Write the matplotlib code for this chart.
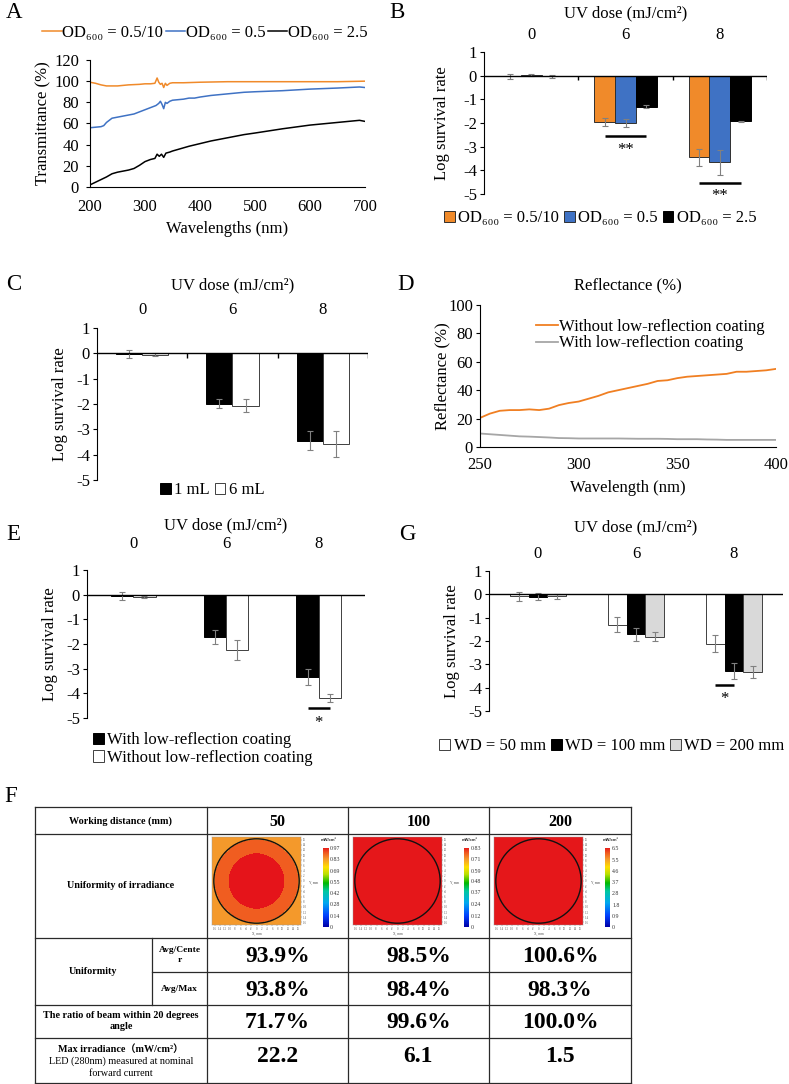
import numpy as np
import matplotlib
matplotlib.use('Agg')
import matplotlib.pyplot as plt
from matplotlib.patches import Circle
from matplotlib.colors import LinearSegmentedColormap

# ---------------- data ----------------
# Panel A : transmittance (%) vs wavelength (nm)
a_wl_orange = [200, 210, 220, 230, 250, 270, 290, 300, 310, 318, 322, 325, 328, 331, 334, 337, 340, 345, 350, 370, 400, 450, 500, 550, 600, 650, 700]
a_t_orange = [99, 98, 96.5, 95.5, 95.5, 96.5, 97, 97.5, 97.5, 98, 103, 99, 97, 98, 94, 98, 96, 98, 98.5, 98.5, 99, 99.5, 99.5, 99.5, 99.5, 99.5, 100]
a_wl_blue = [200, 210, 220, 225, 230, 240, 250, 260, 270, 280, 290, 300, 310, 320, 325, 328, 331, 334, 337, 340, 345, 350, 360, 370, 380, 390, 400, 420, 440, 460, 480, 500, 550, 600, 650, 690, 700]
a_t_blue = [56, 56.5, 57, 58, 61, 65, 66, 67, 68, 69, 71, 73, 75, 77, 79, 81, 78, 74, 80, 79, 81, 82, 82.5, 83, 84, 84, 85, 86.5, 87.5, 88.5, 89.5, 90, 91, 92.5, 93.5, 94.5, 94]
a_wl_black = [200, 210, 220, 230, 240, 250, 260, 270, 280, 290, 300, 310, 318, 322, 326, 330, 334, 338, 345, 350, 360, 370, 380, 400, 420, 450, 480, 500, 550, 600, 650, 690, 700]
a_t_black = [2, 4.5, 7, 9.5, 12.5, 14, 15, 16, 17.5, 20.5, 24, 26, 27, 31, 29, 31, 28, 32, 33, 34, 35.5, 37, 38.5, 41, 43.5, 46.5, 49.5, 51, 55, 58.5, 61, 63, 62]
a_labels = ['OD₆₀₀ = 0.5/10', 'OD₆₀₀ = 0.5', 'OD₆₀₀ = 2.5']

# Bar panels: categories are UV doses
uv_doses = ['0', '6', '8']

b_labels = ['OD₆₀₀ = 0.5/10', 'OD₆₀₀ = 0.5', 'OD₆₀₀ = 2.5']
b_vals = [[-0.03, -1.97, -3.45], [0.02, -1.98, -3.65], [-0.03, -1.31, -1.92]]
b_errs = [[0.12, 0.17, 0.37], [0.03, 0.17, 0.53], [0.05, 0.07, 0.02]]
b_sig = [(1, 0, 2, -2.57, -3.13, '**'), (2, 0, 2, -4.53, -5.09, '**')]

c_labels = ['1 mL', '6 mL']
c_vals = [[-0.03, -1.99, -3.45], [-0.05, -2.07, -3.58]]
c_errs = [[0.15, 0.17, 0.38], [0.05, 0.25, 0.50]]

e_labels = ['With low-reflection coating', 'Without low-reflection coating']
e_vals = [[-0.05, -1.72, -3.34], [-0.10, -2.24, -4.19]]
e_errs = [[0.17, 0.27, 0.32], [0.05, 0.42, 0.18]]
e_sig = [(2, 0, 1, -4.58, -5.2, '*')]

g_labels = ['WD = 50 mm', 'WD = 100 mm', 'WD = 200 mm']
g_vals = [[-0.08, -1.30, -2.11], [-0.10, -1.72, -3.28], [-0.08, -1.82, -3.32]]
g_errs = [[0.20, 0.32, 0.35], [0.15, 0.26, 0.33], [0.10, 0.20, 0.27]]
g_sig = [(2, 0, 1, -3.9, -4.47, '*')]

# Panel D : reflectance (%)
d_wl = [250, 255, 260, 265, 270, 275, 280, 285, 290, 295, 300, 305, 310, 315, 320, 325, 330, 335, 340, 345, 350, 355, 360, 365, 370, 375, 380, 385, 390, 395, 400]
d_without = [20.5, 23.5, 25.5, 26, 26, 26.5, 26, 27, 29.5, 31, 32, 34, 36, 38.5, 40, 41.5, 43, 44.5, 46.5, 47, 48.5, 49.5, 50, 50.5, 51, 51.5, 53, 53, 53.5, 54, 55]
d_with = [9.5, 9, 8.5, 8, 7.5, 7.3, 7, 6.7, 6.3, 6.2, 6, 6, 6, 6, 6, 5.9, 5.8, 5.8, 5.8, 5.7, 5.5, 5.5, 5.5, 5.3, 5.2, 5, 5, 5, 5, 5, 5]
d_labels = ['Without low-reflection coating', 'With low-reflection coating']

# Panel F : table
f_wd = ['50', '100', '200']
f_avg_center = ['93.9%', '98.5%', '100.6%']
f_avg_max = ['93.8%', '98.4%', '98.3%']
f_ratio = ['71.7%', '99.6%', '100.0%']
f_max_irr = ['22.2', '6.1', '1.5']
f_cbar_ticks = [[0.97, 0.83, 0.69, 0.55, 0.42, 0.28, 0.14, 0],
                [0.83, 0.71, 0.59, 0.48, 0.37, 0.24, 0.12, 0],
                [6.5, 5.5, 4.6, 3.7, 2.8, 1.8, 0.9, 0]]
f_zone_radii = [[10.7, 16.0], [], []]          # mm
f_zone_frac = [[1.0, 0.925, 0.85], [0.995], [0.995]]  # fraction of colour-bar max
f_axis_ticks = list(range(-16, 17, 2))

# ---------------- style ----------------
W, H = 789, 1084
plt.rcParams['font.family'] = ['Liberation Serif', 'DejaVu Serif']
plt.rcParams['axes.unicode_minus'] = False
plt.rcParams['axes.linewidth'] = 0.8
FS = 12

fig = plt.figure(figsize=(W / 100, H / 100), dpi=100)


def rect(x0, y0, x1, y1):
    return [x0 / W, 1 - y1 / H, (x1 - x0) / W, (y1 - y0) / H]


def fpt(x, y):
    return (x / W, 1 - y / H)


# overlay for panel letters and table
axT = fig.add_axes([0, 0, 1, 1])
axT.set_xlim(0, W)
axT.set_ylim(H, 0)
axT.axis('off')
for lab, (x, y) in zip('ABCDEGF', [(14, 13), (397, 13), (14, 285), (406, 285), (13, 535), (407, 535), (11, 796)]):
    axT.text(x, y, lab, fontsize=16.5, ha='center', va='center')

# ---------------- Panel A ----------------
box = (90, 60, 365, 187)
axA = fig.add_axes(rect(*box))
axA.plot(a_wl_orange, a_t_orange, color='#F08A2A', lw=1.1, label=a_labels[0])
axA.plot(a_wl_blue, a_t_blue, color='#3F72C4', lw=1.1, label=a_labels[1])
axA.plot(a_wl_black, a_t_black, color='black', lw=1.1, label=a_labels[2])
axA.set_xlim(200, 700)
axA.set_ylim(0, 120)
axA.set_yticks(range(0, 121, 20))
axA.set_xticks(range(200, 701, 100))
for s in ['top', 'right']:
    axA.spines[s].set_visible(False)
axA.tick_params(axis='y', length=3, pad=5, labelsize=FS)
axA.tick_params(axis='x', length=0, pad=8.5, labelsize=FS)
axA.set_xlabel('Wavelengths (nm)', fontsize=FS)
axA.xaxis.label.set_va('center')
axA.xaxis.set_label_coords(0.5, (box[3] - 229) / (box[3] - box[1]))
axA.set_ylabel('Transmittance (%)', fontsize=FS)
axA.yaxis.label.set_va('center')
axA.yaxis.set_label_coords((43 - box[0]) / (box[2] - box[0]), 0.5)
axA.legend(loc='center', bbox_to_anchor=fpt(205, 33), bbox_transform=fig.transFigure,
           ncol=3, frameon=False, fontsize=FS, handlelength=1.15, handletextpad=0.05,
           columnspacing=0.15, borderaxespad=0, borderpad=0)


# ---------------- bar panels ----------------
def bar_panel(box, vals, errs, labels, colors, edges, width, tickpad, uv_y, ylab_x,
              boundary_ticks, sig, leg_anchor, leg_ncol, leg_loc='center', leg_spacing=0.6):
    ax = fig.add_axes(rect(*box))
    n = len(vals)
    xc = np.arange(len(uv_doses)) + 0.5
    offs = (np.arange(n) - (n - 1) / 2) * width
    for i in range(n):
        ax.bar(xc + offs[i], vals[i], width, color=colors[i], edgecolor=edges[i],
               linewidth=0.7, label=labels[i], zorder=2)
        ax.errorbar(xc + offs[i], vals[i], yerr=errs[i], fmt='none', ecolor='#808080',
                    elinewidth=0.8, capsize=2, capthick=0.8, zorder=3)
    ax.axhline(0, color='black', lw=1, zorder=4)
    if boundary_ticks:
        ax.vlines(np.arange(1, len(uv_doses) + 1), -0.2, 0, colors='black', lw=1, zorder=4)
    ax.set_xlim(0, len(uv_doses))
    ax.set_ylim(-5, 1)
    ax.set_yticks(range(-5, 2))
    ax.set_xticks(xc)
    ax.set_xticklabels(uv_doses)
    ax.xaxis.set_ticks_position('top')
    ax.xaxis.set_label_position('top')
    ax.tick_params(axis='x', length=0, pad=tickpad, labelsize=FS)
    ax.tick_params(axis='y', length=3, pad=2, labelsize=FS)
    for s in ['top', 'right', 'bottom']:
        ax.spines[s].set_visible(False)
    ax.set_xlabel('UV dose (mJ/cm²)', fontsize=FS)
    ax.xaxis.label.set_va('center')
    ax.xaxis.set_label_coords(0.5, (box[3] - uv_y) / (box[3] - box[1]))
    ax.set_ylabel('Log survival rate', fontsize=FS)
    ax.yaxis.label.set_va('center')
    ax.yaxis.set_label_coords((ylab_x - box[0]) / (box[2] - box[0]), 0.5)
    for (g, i0, i1, yl, yt, txt) in sig:
        xa, xb = xc[g] + offs[i0], xc[g] + offs[i1]
        ax.plot([xa, xb], [yl, yl], color='black', lw=1.8, solid_capstyle='butt')
        ax.text((xa + xb) / 2, yt, txt, ha='center', va='center', fontsize=FS)
    ax.legend(loc=leg_loc, bbox_to_anchor=fpt(*leg_anchor), bbox_transform=fig.transFigure,
              ncol=leg_ncol, frameon=False, fontsize=FS, handlelength=0.65, handleheight=0.65,
              handletextpad=0.2, columnspacing=leg_spacing, borderaxespad=0, borderpad=0,
              labelspacing=0.1)
    return ax


bar_panel((484, 52, 767, 194), b_vals, b_errs, b_labels,
          ['#F08A2A', '#3F72C4', '#000000'], ['#303030', '#303030', '#000000'], 0.22,
          6.6, 13, 442, True, b_sig, (600, 218), 3, leg_spacing=0.3)

bar_panel((97, 328, 368, 480), c_vals, c_errs, c_labels,
          ['#000000', '#FFFFFF'], ['#000000', '#404040'], 0.29,
          7.3, 285, 60, True, [], (212, 490), 2, leg_spacing=0.3)

bar_panel((87, 570, 365, 718), e_vals, e_errs, e_labels,
          ['#000000', '#FFFFFF'], ['#000000', '#404040'], 0.24,
          13, 525, 50, False, e_sig, (93, 749), 1, leg_loc='center left')

bar_panel((489, 571, 783, 711), g_vals, g_errs, g_labels,
          ['#FFFFFF', '#000000', '#D9D9D9'], ['#404040', '#000000', '#404040'], 0.19,
          6.6, 527, 452, False, g_sig, (612, 746), 3, leg_spacing=0.3)

# ---------------- Panel D ----------------
box = (480, 305, 776, 447)
axD = fig.add_axes(rect(*box))
axD.plot(d_wl, d_without, color='#F07F22', lw=1.3, label=d_labels[0])
axD.plot(d_wl, d_with, color='#A6A6A6', lw=1.3, label=d_labels[1])
axD.set_xlim(250, 400)
axD.set_ylim(0, 100)
axD.set_yticks(range(0, 101, 20))
axD.set_xticks(range(250, 401, 50))
for s in ['top', 'right']:
    axD.spines[s].set_visible(False)
axD.tick_params(axis='y', length=3, pad=2, labelsize=FS)
axD.tick_params(axis='x', length=0, pad=7.3, labelsize=FS)
axD.set_xlabel('Wavelength (nm)', fontsize=FS)
axD.xaxis.label.set_va('center')
axD.xaxis.set_label_coords(0.5, (box[3] - 488) / (box[3] - box[1]))
axD.set_ylabel('Reflectance (%)', fontsize=FS)
axD.yaxis.label.set_va('center')
axD.yaxis.set_label_coords((442 - box[0]) / (box[2] - box[0]), 0.5)
axD.text(0.5, (box[3] - 285) / (box[3] - box[1]), 'Reflectance (%)', transform=axD.transAxes,
         ha='center', va='center', fontsize=FS)
axD.legend(loc='center left', bbox_to_anchor=fpt(536, 335), bbox_transform=fig.transFigure,
           frameon=False, fontsize=FS, handlelength=1.3, handletextpad=0.1, labelspacing=0.05,
           borderaxespad=0, borderpad=0)

# ---------------- Panel F : table ----------------
col_x = [35, 152, 207, 348, 489, 631]
row_y = [807, 834, 938, 972, 1005, 1038, 1083]
lc = '#2a2a2a'
for i, y in enumerate(row_y):
    x0 = col_x[1] if y == 972 else col_x[0]
    axT.plot([x0, col_x[-1]], [y, y], color=lc, lw=0.9)
for x in [35, 207, 348, 489, 631]:
    axT.plot([x, x], [row_y[0], row_y[-1]], color=lc, lw=0.9)
axT.plot([152, 152], [938, 1005], color=lc, lw=0.9)

lx = (col_x[0] + col_x[2]) / 2
tb = dict(ha='center', va='center', fontweight='bold')
axT.text(lx, 821, 'Working distance (mm)', fontsize=7.3, **tb)
axT.text(lx, 886, 'Uniformity of irradiance', fontsize=7.3, **tb)
axT.text((35 + 152) / 2, 972, 'Uniformity', fontsize=7.3, **tb)
axT.text((152 + 207) / 2, 955, 'Avg/Cente\nr', fontsize=6.8, linespacing=1.3, **tb)
axT.text((152 + 207) / 2, 989, 'Avg/Max', fontsize=6.8, **tb)
axT.text(lx, 1021, 'The ratio of beam within 20 degrees\nangle', fontsize=7.3, linespacing=1.35, **tb)
axT.text(lx, 1049, 'Max irradiance（mW/cm²）', fontsize=7.3,
         family=['Liberation Serif', 'Noto Sans CJK SC'], **tb)
axT.text(lx, 1061.5, 'LED (280nm) measured at nominal', fontsize=7.3, ha='center', va='center')
axT.text(lx, 1074, 'forward current', fontsize=7.3, ha='center', va='center')

for c in range(3):
    cx = (col_x[c + 2] + col_x[c + 3]) / 2
    axT.text(cx, 822, f_wd[c], fontsize=11.5, **tb)
    axT.text(cx, 956, f_avg_center[c], fontsize=17, **tb)
    axT.text(cx, 990, f_avg_max[c], fontsize=17, **tb)
    axT.text(cx, 1023, f_ratio[c], fontsize=17, **tb)
    axT.text(cx, 1056, f_max_irr[c], fontsize=17, **tb)

cmap = LinearSegmentedColormap.from_list('irr', [
    (0.0, '#0000A8'), (0.14, '#0040FF'), (0.3, '#00A8F0'), (0.45, '#00C8A0'),
    (0.55, '#00B800'), (0.66, '#B8E000'), (0.75, '#FFE000'), (0.85, '#F59A2C'),
    (0.93, '#F05A20'), (1.0, '#E5141A')])

grid = np.linspace(-17, 17, 241)
gx, gy = np.meshgrid(grid, grid)
gr = np.hypot(gx, gy)
for c in range(3):
    xL = col_x[c + 2]
    vmax = f_cbar_ticks[c][0]
    zone = np.digitize(gr, f_zone_radii[c])
    field = np.array(f_zone_frac[c])[zone] * vmax
    axh = fig.add_axes(rect(xL + 5, 837, xL + 94, 925))
    axh.imshow(field, extent=[-17, 17, -17, 17], origin='lower', cmap=cmap, vmin=0, vmax=vmax,
               aspect='auto', interpolation='nearest')
    axh.add_patch(Circle((0, 0), 16.3, fill=False, ec='#111111', lw=1.0))
    axh.set_xlim(-17, 17)
    axh.set_ylim(-17, 17)
    axh.set_xticks(f_axis_ticks)
    axh.set_yticks(f_axis_ticks)
    axh.tick_params(labelsize=2.2, length=1, width=0.3, pad=0.5, colors='#555555')
    axh.yaxis.tick_right()
    axh.set_xlabel('X, mm', fontsize=2.5, labelpad=0.3, color='#555555')
    axh.set_ylabel('Y, mm', fontsize=2.5, labelpad=1, color='#555555', rotation=0)
    axh.yaxis.set_label_position('right')
    axh.yaxis.label.set_ha('left')
    for s in axh.spines.values():
        s.set_linewidth(0.3)
        s.set_color('#999999')
    axc = fig.add_axes(rect(xL + 116, 848, xL + 121, 927))
    axc.imshow(np.linspace(0, vmax, 200).reshape(-1, 1), extent=[0, 1, 0, vmax], origin='lower',
               cmap=cmap, vmin=0, vmax=vmax, aspect='auto')
    axc.set_xticks([])
    axc.set_yticks(f_cbar_ticks[c])
    axc.set_yticklabels([('%g' % v) for v in f_cbar_ticks[c]])
    axc.yaxis.tick_right()
    axc.tick_params(labelsize=4.2, length=0, pad=1.5, colors='#333333')
    for s in axc.spines.values():
        s.set_visible(False)
    axT.text(xL + 122, 840, 'mW/cm²', fontsize=3.0, ha='center', va='center',
             fontweight='bold', family=['Liberation Sans', 'DejaVu Sans'], color='#333333')

fig.savefig('out.png', dpi=100)
